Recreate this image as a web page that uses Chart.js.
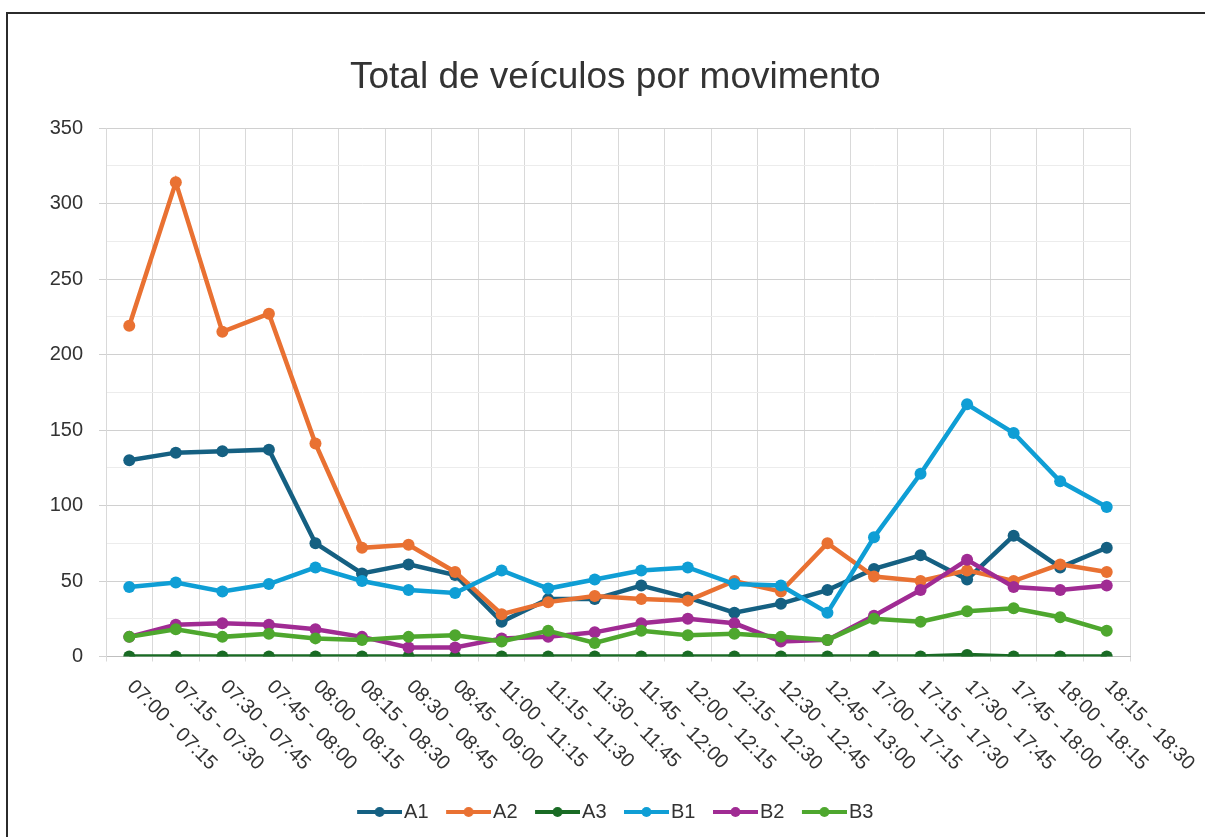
<!DOCTYPE html>
<html>
<head>
<meta charset="utf-8">
<script src="https://cdn.jsdelivr.net/npm/chart.js@4"></script>
<style>
  html, body { margin: 0; padding: 0; background: #fff; }
  #wrap { position: relative; width: 1205px; height: 837px; overflow: hidden; }
  #frame { position: absolute; left: 6px; top: 12px; width: 1300px; height: 900px; border: 2px solid #2b2b2b; box-sizing: border-box; }
  canvas { position: absolute; left: 0; top: 0; }
</style>
</head>
<body>
<div id="wrap">
  <div id="frame"></div>
  <canvas id="grafico" width="1205" height="837"></canvas>
</div>
<script>
// Categorias (intervalos de 15 min)
const categorias = [
  "07:00 - 07:15", "07:15 - 07:30", "07:30 - 07:45", "07:45 - 08:00",
  "08:00 - 08:15", "08:15 - 08:30", "08:30 - 08:45", "08:45 - 09:00",
  "11:00 - 11:15", "11:15 - 11:30", "11:30 - 11:45", "11:45 - 12:00",
  "12:00 - 12:15", "12:15 - 12:30", "12:30 - 12:45", "12:45 - 13:00",
  "17:00 - 17:15", "17:15 - 17:30", "17:30 - 17:45", "17:45 - 18:00",
  "18:00 - 18:15", "18:15 - 18:30"
];

// Valores por movimento
const serieA1 = [130, 135, 136, 137, 75, 55, 61, 54, 23, 38, 38, 47, 39, 29, 35, 44, 58, 67, 51, 80, 59, 72];
const serieA2 = [219, 314, 215, 227, 141, 72, 74, 56, 28, 36, 40, 38, 37, 50, 43, 75, 53, 50, 57, 50, 61, 56];
const serieA3 = [0, 0, 0, 0, 0, 0, 0, 0, 0, 0, 0, 0, 0, 0, 0, 0, 0, 0, 1, 0, 0, 0];
const serieB1 = [46, 49, 43, 48, 59, 50, 44, 42, 57, 45, 51, 57, 59, 48, 47, 29, 79, 121, 167, 148, 116, 99];
const serieB2 = [13, 21, 22, 21, 18, 13, 6, 6, 12, 13, 16, 22, 25, 22, 10, 11, 27, 44, 64, 46, 44, 47];
const serieB3 = [13, 18, 13, 15, 12, 11, 13, 14, 10, 17, 9, 17, 14, 15, 13, 11, 25, 23, 30, 32, 26, 17];

const nomesSeries = ["A1", "A2", "A3", "B1", "B2", "B3"];
const coresSeries = ["#156082", "#E97132", "#196B24", "#0F9ED5", "#A02B93", "#4EA72E"];
const valoresSeries = [serieA1, serieA2, serieA3, serieB1, serieB2, serieB3];

const yTicks = [0, 50, 100, 150, 200, 250, 300, 350];

const fonte = '"Liberation Sans", Arial, sans-serif';
const corTexto = "#333333";

// icone da legenda: linha com marcador
function iconeLegenda(cor) {
  const c = document.createElement("canvas");
  c.width = 53; c.height = 12;
  const g = c.getContext("2d");
  g.strokeStyle = cor;
  g.lineWidth = 4;
  g.beginPath(); g.moveTo(8, 6); g.lineTo(53, 6); g.stroke();
  g.fillStyle = cor;
  g.beginPath(); g.arc(30.5, 6, 5, 0, Math.PI * 2); g.fill();
  return c;
}
const icones = coresSeries.map(iconeLegenda);

// rótulos do eixo x inclinados para baixo (45° no sentido horário)
const rotulosDiagonais = {
  id: "rotulosDiagonais",
  afterDraw(chart) {
    const { ctx, scales: { x } } = chart;
    ctx.save();
    ctx.font = "20px " + fonte;
    ctx.fillStyle = corTexto;
    ctx.textAlign = "left";
    ctx.textBaseline = "middle";
    categorias.forEach((c, i) => {
      ctx.save();
      ctx.translate(x.getPixelForValue(i) + 1, x.top + 27);
      ctx.rotate(Math.PI / 4);
      ctx.fillText(c, 0, 0);
      ctx.restore();
    });
    ctx.restore();
  }
};

const datasets = nomesSeries.map((nome, i) => ({
  label: nome,
  data: valoresSeries[i],
  borderColor: coresSeries[i],
  backgroundColor: coresSeries[i],
  borderWidth: 4.5,
  pointRadius: 6,
  pointHoverRadius: 6,
  pointBorderWidth: 0,
  pointBackgroundColor: coresSeries[i],
  tension: 0,
  fill: false,
  order: nomesSeries.length - i
}));

new Chart(document.getElementById("grafico"), {
  type: "line",
  data: { labels: categorias, datasets: datasets },
  options: {
    responsive: false,
    animation: false,
    devicePixelRatio: 1,
    layout: { padding: { left: 25.5, right: 0, top: 0, bottom: 5 } },
    plugins: {
      tooltip: { enabled: false },
      title: {
        display: true,
        text: "Total de veículos por movimento",
        color: corTexto,
        font: { family: fonte, size: 37, weight: "normal" },
        padding: { top: 56, bottom: 27.6 }
      },
      legend: {
        position: "bottom",
        labels: {
          usePointStyle: true,
          pointStyleWidth: 37,
          padding: 17.5,
          color: corTexto,
          font: { family: fonte, size: 20 },
          sort: (a, b) => a.datasetIndex - b.datasetIndex,
          generateLabels(chart) {
            const itens = Chart.defaults.plugins.legend.labels.generateLabels(chart);
            return itens.map(it => ({ ...it, pointStyle: icones[it.datasetIndex] }));
          }
        }
      }
    },
    scales: {
      x: {
        type: "category",
        offset: true,
        grid: { offset: true, color: "#d9d9d9", drawTicks: true, tickLength: 5, tickColor: "#d9d9d9" },
        border: { color: "#bfbfbf", width: 1 },
        ticks: { display: false },
        afterFit(s) { s.height = 128; }
      },
      y: {
        min: 0,
        max: 350,
        ticks: {
          stepSize: 25,
          padding: 16,
          color: corTexto,
          font: { family: fonte, size: 20 },
          callback: v => (yTicks.includes(v) ? v : "")
        },
        grid: {
          color: c => (c.tick && c.tick.value % 50 === 0 ? "#d0d0d0" : "#ececec"),
          tickColor: c => (c.tick && c.tick.value % 50 === 0 ? "#d0d0d0" : "rgba(0,0,0,0)"),
          tickLength: 7
        },
        border: { color: "#d9d9d9" },
        afterFit(s) { s.width = 80.5; }
      },
      direita: {
        type: "linear",
        position: "right",
        grid: { display: false, drawTicks: false },
        border: { display: false },
        ticks: { display: false },
        afterFit(s) { s.width = 75; }
      }
    }
  },
  plugins: [rotulosDiagonais]
});
</script>
</body>
</html>
